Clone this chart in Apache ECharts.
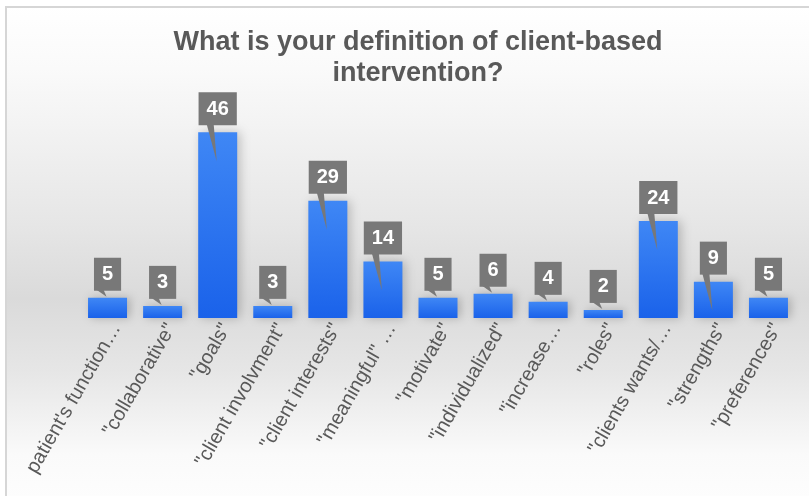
<!DOCTYPE html>
<html>
<head>
<meta charset="utf-8">
<script src="https://cdn.jsdelivr.net/npm/echarts@6/dist/echarts.min.js"></script>
<style>
  html, body { margin: 0; padding: 0; background: #ffffff; }
  #chart { width: 809px; height: 496px; }
</style>
</head>
<body>
<div id="chart"></div>
<script>
// Survey answers: "What is your definition of client-based intervention?"
const categories = [
  "patient's function…",
  '"collaborative"',
  '"goals"',
  '"client involvment"',
  '"client interests"',
  '"meaningful" …',
  '"motivate"',
  '"individualized"',
  '"increase…',
  '"roles"',
  '"clients wants/…',
  '"strengths"',
  '"preferences"'
];
const counts = [5, 3, 46, 3, 29, 14, 5, 6, 4, 2, 24, 9, 5];

const chartTitle = 'What is your definition of client-based\nintervention?';

const chart = echarts.init(document.getElementById('chart'), null, { renderer: 'canvas' });

const calloutGrey = '#787878';

// Pointer tail of each callout box, drawn from the bar's own coordinates
function renderTail(params, api) {
  const idx = api.value(0);
  const val = api.value(1);
  const top = api.coord([idx, val]);
  const base = api.coord([idx, 0]);
  const cx = top[0];
  const boxBottom = top[1] - 7;
  const barH = base[1] - top[1];
  const apexY = barH > 30 ? top[1] + 29 : top[1] - 1;
  return {
    type: 'polygon',
    shape: { points: [[cx - 11, boxBottom - 1], [cx - 4, boxBottom - 1], [cx - 1, apexY]] },
    style: { fill: calloutGrey }
  };
}

const option = {
  animation: false,
  graphic: [
    {
      type: 'rect',
      z: -10,
      shape: { x: 6, y: 7, width: 820, height: 520 },
      style: {
        fill: new echarts.graphic.LinearGradient(0, 0, 0, 1, [
          { offset: 0, color: '#ffffff' },
          { offset: 0.12, color: '#fafafa' },
          { offset: 0.42, color: '#e6e6e6' },
          { offset: 0.56, color: '#dadada' },
          { offset: 0.7, color: '#e6e6e6' },
          { offset: 0.86, color: '#fafafa' },
          { offset: 1, color: '#ffffff' }
        ]),
        stroke: '#d6d6d6',
        lineWidth: 2
      }
    }
  ],
  title: {
    text: chartTitle,
    left: 413,
    top: 22,
    textAlign: 'center',
    textStyle: {
      fontFamily: 'Liberation Sans, Arial, sans-serif',
      fontSize: 27,
      fontWeight: 'bold',
      color: '#595959',
      lineHeight: 31
    }
  },
  grid: { left: 80, right: 13, top: 116, bottom: 178, containLabel: false },
  xAxis: {
    type: 'category',
    data: categories,
    axisLine: { show: false },
    axisTick: { show: false },
    axisLabel: {
      rotate: 60,
      interval: 0,
      margin: 2,
      verticalAlign: 'top',
      fontFamily: 'Liberation Sans, Arial, sans-serif',
      fontSize: 20,
      color: '#595959'
    }
  },
  yAxis: {
    type: 'value',
    min: 0,
    max: 50,
    show: false,
    splitLine: { show: false }
  },
  series: [
    {
      type: 'bar',
      data: counts,
      barWidth: 39,
      z: 2,
      itemStyle: {
        color: new echarts.graphic.LinearGradient(0, 0, 0, 1, [
          { offset: 0, color: '#3f87f5' },
          { offset: 1, color: '#1a62ea' }
        ]),
        shadowColor: 'rgba(0,0,0,0.22)',
        shadowBlur: 10,
        shadowOffsetX: 3
      },
      label: {
        show: true,
        position: 'top',
        distance: 7,
        backgroundColor: calloutGrey,
        color: '#ffffff',
        fontFamily: 'Liberation Sans, Arial, sans-serif',
        fontSize: 20,
        fontWeight: 'bold',
        lineHeight: 22,
        padding: [6, 8, 5, 8]
      }
    },
    {
      type: 'custom',
      z: 3,
      silent: true,
      renderItem: renderTail,
      data: counts.map((v, i) => [i, v])
    }
  ]
};

chart.setOption(option);
</script>
</body>
</html>
